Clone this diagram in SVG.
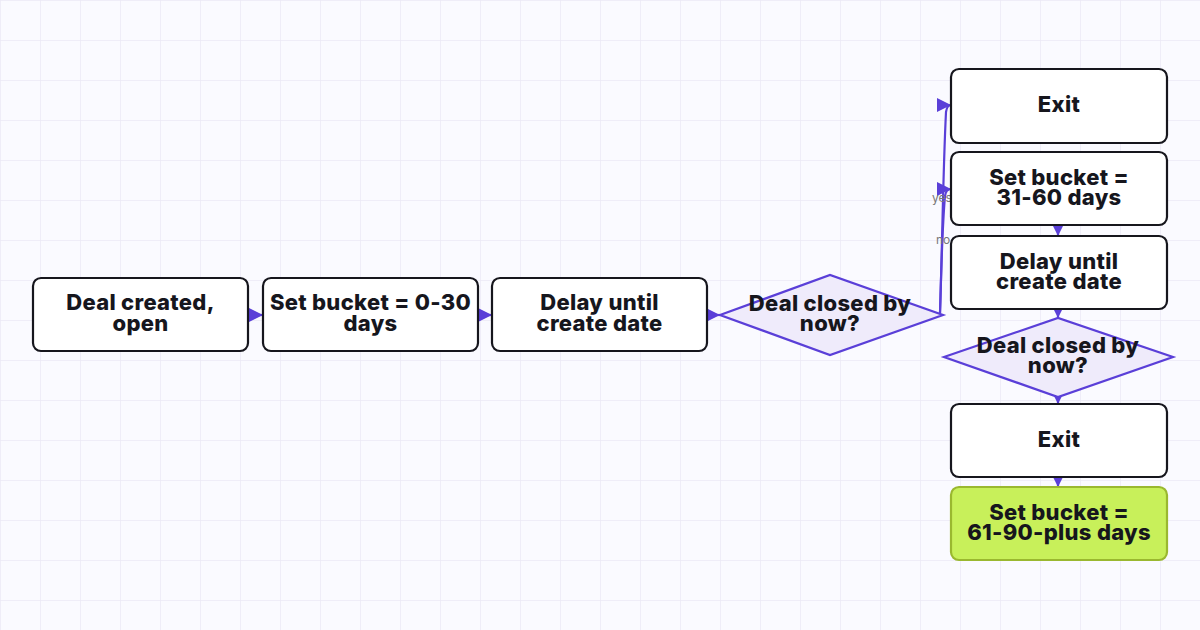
<svg xmlns="http://www.w3.org/2000/svg" width="1200" height="630" viewBox="0 0 1200 630">
<defs>
<pattern id="grid" width="40" height="40" patternUnits="userSpaceOnUse">
<path d="M40 0H0V40" fill="none" stroke="#ebe9f6" stroke-width="1.5"/>
</pattern>
<marker id="ah" viewBox="0 0 14 14" refX="14" refY="7" markerWidth="14" markerHeight="14" markerUnits="userSpaceOnUse" orient="auto">
<path d="M0 0L14 7L0 14Z" fill="#5a3fd8"/>
</marker>
</defs>
<style>
.box{fill:#ffffff;stroke:#16161d;stroke-width:2.2}
.green{fill:#c8f05a;stroke:#9ab82f;stroke-width:2.2}
.dia{fill:#efebfb;stroke:#5a3fd8;stroke-width:2.2}
.t{font-family:Inter,"Noto Sans",sans-serif;font-weight:800;font-size:22px;letter-spacing:0.3px;fill:#16161d;text-anchor:middle}
.edge{fill:none;stroke:#5a3fd8;stroke-width:2.2}
.lbl{font-family:Inter,"Noto Sans",sans-serif;font-size:12px;fill:#777}
</style>
<rect width="1200" height="630" fill="#fafaff"/>
<rect width="1200" height="630" fill="url(#grid)"/>
<g id="connectors">
<path class="edge" d="M248 315H263" marker-end="url(#ah)"/>
<path class="edge" d="M478 315H492" marker-end="url(#ah)"/>
<path class="edge" d="M707 315H720" marker-end="url(#ah)"/>
<path class="edge" d="M940 313C942 260 943 170 946 112Q947 105 951 105" marker-end="url(#ah)"/>
<path class="edge" d="M940 313C941 280 942 230 945 196Q946 189 951 189" marker-end="url(#ah)"/>
<path class="edge" d="M1058 225V236" marker-end="url(#ah)"/>
<path class="edge" d="M1058 309V318" marker-end="url(#ah)"/>
<path class="edge" d="M1058 397V404" marker-end="url(#ah)"/>
<path class="edge" d="M1058 477V487" marker-end="url(#ah)"/>
<text class="lbl" x="932" y="202">yes</text>
<text class="lbl" x="936" y="244">no</text>
</g>
<g id="n1"><rect class="box" x="33" y="278" width="215" height="73" rx="8"/><text class="t" x="140.5" y="310">Deal created,</text><text class="t" x="140.5" y="331">open</text></g>
<g id="n2"><rect class="box" x="263" y="278" width="215" height="73" rx="8"/><text class="t" x="370.5" y="310">Set bucket = 0-30</text><text class="t" x="370.5" y="331">days</text></g>
<g id="n3"><rect class="box" x="492" y="278" width="215" height="73" rx="8"/><text class="t" x="599.5" y="310">Delay until</text><text class="t" x="599.5" y="331">create date</text></g>
<g id="d1"><path class="dia" d="M720 315L830 275L943 315L830 355Z"/><text class="t" x="830" y="311">Deal closed by</text><text class="t" x="830" y="331">now?</text></g>
<g id="n5"><rect class="box" x="951" y="69" width="216" height="74" rx="8"/><text class="t" x="1059" y="112">Exit</text></g>
<g id="n6"><rect class="box" x="951" y="152" width="216" height="73" rx="8"/><text class="t" x="1059" y="185">Set bucket =</text><text class="t" x="1059" y="205">31-60 days</text></g>
<g id="n7"><rect class="box" x="951" y="236" width="216" height="73" rx="8"/><text class="t" x="1059" y="269">Delay until</text><text class="t" x="1059" y="289">create date</text></g>
<g id="d2"><path class="dia" d="M944 357L1058 318L1173 357L1058 397Z"/><text class="t" x="1058" y="353">Deal closed by</text><text class="t" x="1058" y="373">now?</text></g>
<g id="n9"><rect class="box" x="951" y="404" width="216" height="73" rx="8"/><text class="t" x="1059" y="447">Exit</text></g>
<g id="n10"><rect class="green" x="951" y="487" width="216" height="73" rx="8"/><text class="t" x="1059" y="520">Set bucket =</text><text class="t" x="1059" y="540">61-90-plus days</text></g>
</svg>
